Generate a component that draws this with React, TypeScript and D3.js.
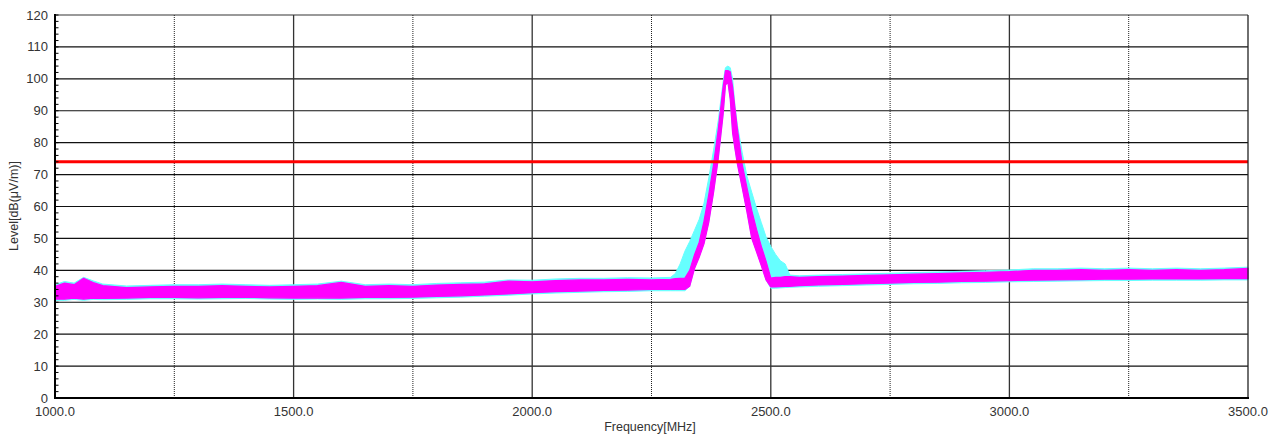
import React from "react";
import * as d3 from "d3";

const freqs = [1000,1020,1040,1060,1080,1100,1150,1200,1250,1300,1350,1400,1450,1500,1550,1600,1650,1700,1750,1800,1850,1900,1950,2000,2050,2100,2150,2200,2250,2290,2300,2310,2320,2330,2340,2350,2360,2370,2380,2390,2400,2405,2410,2415,2420,2425,2430,2440,2450,2460,2470,2480,2490,2500,2510,2520,2530,2540,2560,2600,2650,2700,2750,2800,2850,2900,2950,3000,3050,3100,3150,3200,3250,3300,3350,3400,3450,3500];

const magentaLow = [31.0,31.0,31.3,31.0,31.3,31.2,31.3,31.5,31.5,31.4,31.5,31.6,31.4,31.3,31.4,31.3,31.5,31.5,31.6,31.8,32.0,32.3,32.6,33.0,33.3,33.5,33.7,33.8,34.0,34.0,34.0,34.0,34.0,
  35.0,40.5,44.1,48.3,55.0,64.3,75.1,88.7,98.0,99.0,93.6,83.0,78.0,73.3,65.9,58.3,50.0,45.8,41.5,37.0,34.8,
  34.8,34.9,35.0,35.0,35.2,35.4,35.6,35.8,36.0,36.2,36.3,36.5,36.6,36.8,36.9,37.0,37.1,37.2,37.2,37.3,37.3,37.3,37.4,37.4];

const magentaHigh = [35.0,36.0,35.5,37.5,36.2,35.2,34.6,34.8,35.0,35.0,35.2,35.0,34.8,35.0,35.2,36.2,35.0,35.2,35.0,35.4,35.6,35.8,36.6,36.4,36.8,37.0,37.0,37.2,37.0,37.2,37.4,37.5,37.6,
  40.0,44.8,48.8,55.4,63.7,73.1,84.3,97.4,102.6,102.6,102.2,97.4,90.8,84.3,73.3,65.9,58.8,52.9,47.6,42.9,37.6,
  37.8,37.8,38.0,38.0,37.8,38.0,38.2,38.4,38.6,38.8,39.0,39.2,39.4,39.6,40.0,40.0,40.2,40.0,40.2,40.0,40.2,40.0,40.2,40.6];

const cyanLow = [30.6,30.6,30.9,30.6,30.9,30.8,30.9,31.1,31.1,31.0,31.1,31.2,31.0,30.9,31.0,30.9,31.1,31.1,31.2,31.4,31.6,31.9,32.2,32.6,32.9,33.1,33.3,33.4,33.6,33.6,33.6,33.6,33.6,
  35.0,40.7,44.3,48.5,55.2,64.5,75.3,88.9,98.2,99.2,93.8,83.2,78.2,73.5,66.1,58.5,50.2,46.0,41.7,37.0,34.4,
  34.4,34.5,34.6,34.7,34.8,35.0,35.2,35.4,35.6,35.8,35.9,36.1,36.2,36.4,36.5,36.6,36.7,36.8,36.8,36.9,36.9,36.9,37.0,37.0];

const cyanHigh = [35.5,36.5,36.0,37.8,36.7,35.7,35.1,35.3,35.5,35.5,35.7,35.5,35.3,35.5,35.7,36.6,35.5,35.7,35.5,35.9,36.1,36.3,37.0,36.9,37.3,37.5,37.5,37.7,37.6,37.8,39.0,42.0,46.0,
  49.0,52.5,56.0,61.0,68.9,77.6,87.0,99.0,103.5,104.0,103.5,100.0,91.5,85.5,77.0,69.5,64.5,59.5,55.0,50.5,47.5,
  45.0,43.0,42.0,38.5,38.3,38.5,38.7,38.9,39.1,39.3,39.5,39.7,39.9,40.1,40.5,40.5,40.7,40.5,40.7,40.5,40.7,40.5,40.7,41.0];

const limitLevel = 74;
const yTicks = [0,10,20,30,40,50,60,70,80,90,100,110,120];
const yMinorTicks = d3.range(0, 121, 2);
const xMajorTicks = [1000,1500,2000,2500,3000,3500];
const xMinorTicks = [1250,1750,2250,2750,3250];
const xTitle = "Frequency[MHz]";
const yTitle = "Level[dB(μV/m)]";

const W = 1283, H = 440;
const L = 55, R = 1248, T = 15, B = 398;

export default function App() {
  const x = d3.scaleLinear().domain([1000, 3500]).range([L, R]);
  const y = d3.scaleLinear().domain([0, 120]).range([B, T]);
  const idx = freqs.map((_, i) => i);
  const area = (lo: number[], hi: number[]) =>
    d3.area<number>()
      .x((i) => x(freqs[i]))
      .y0((i) => y(lo[i]))
      .y1((i) => y(hi[i]))(idx) || "";
  const font = "'Liberation Sans', Arial, sans-serif";
  const txt = "#333";
  return (
    <svg width={W} height={H} style={{ position: "absolute", left: 0, top: 0, background: "#fff" }} fontFamily={font}>
      <rect x={0} y={0} width={W} height={H} fill="#fff" />
      {yTicks.filter((t) => t > 0 && t < 120).map((t) => (
        <line key={"h" + t} x1={L} x2={R} y1={y(t)} y2={y(t)} stroke="#111" strokeWidth={1.2} />
      ))}
      <line x1={L} x2={R} y1={y(120)} y2={y(120)} stroke="#999" strokeWidth={2} />
      {xMajorTicks.filter((t) => t > 1000 && t < 3500).map((t) => (
        <line key={"v" + t} x1={x(t)} x2={x(t)} y1={T} y2={B} stroke="#333" strokeWidth={1.3} />
      ))}
      {xMinorTicks.map((t) => (
        <line key={"vm" + t} x1={x(t)} x2={x(t)} y1={T} y2={B} stroke="#222" strokeWidth={1} strokeDasharray="1,1" />
      ))}
      <path d={area(cyanLow, cyanHigh)} fill="#6ff" stroke="#6ff" strokeWidth={1} strokeLinejoin="round" />
      <path d={area(magentaLow, magentaHigh)} fill="#f0f" stroke="#f0f" strokeWidth={1.2} strokeLinejoin="round" />
      <line x1={L} x2={R} y1={y(limitLevel)} y2={y(limitLevel)} stroke="#ff0000" strokeWidth={3} />
      <line x1={R} x2={R} y1={T} y2={B} stroke="#222" strokeWidth={1.3} />
      <line x1={L} x2={L} y1={T - 1} y2={B + 1} stroke="#000" strokeWidth={2} />
      <line x1={L - 1} x2={R + 1} y1={B} y2={B} stroke="#000" strokeWidth={2} />
      {yMinorTicks.map((t) => (
        <line key={"yt" + t} x1={L} x2={L + 3.5} y1={y(t)} y2={y(t)} stroke="#000" strokeWidth={1} />
      ))}
      {yTicks.map((t) => (
        <text key={"yl" + t} x={48} y={y(t)} dy="0.35em" textAnchor="end" fontSize={13} fill={txt}>{t}</text>
      ))}
      {xMajorTicks.map((t) => (
        <text key={"xl" + t} x={x(t)} y={411} dy="0.35em" textAnchor="middle" fontSize={13} fill={txt}>{t.toFixed(1)}</text>
      ))}
      <text x={650} y={427} dy="0.35em" textAnchor="middle" fontSize={12.5} fill={txt}>{xTitle}</text>
      <text transform={`translate(14,206) rotate(-90)`} textAnchor="middle" dy="0.35em" fontSize={12.5} fill={txt}>{yTitle}</text>
    </svg>
  );
}
